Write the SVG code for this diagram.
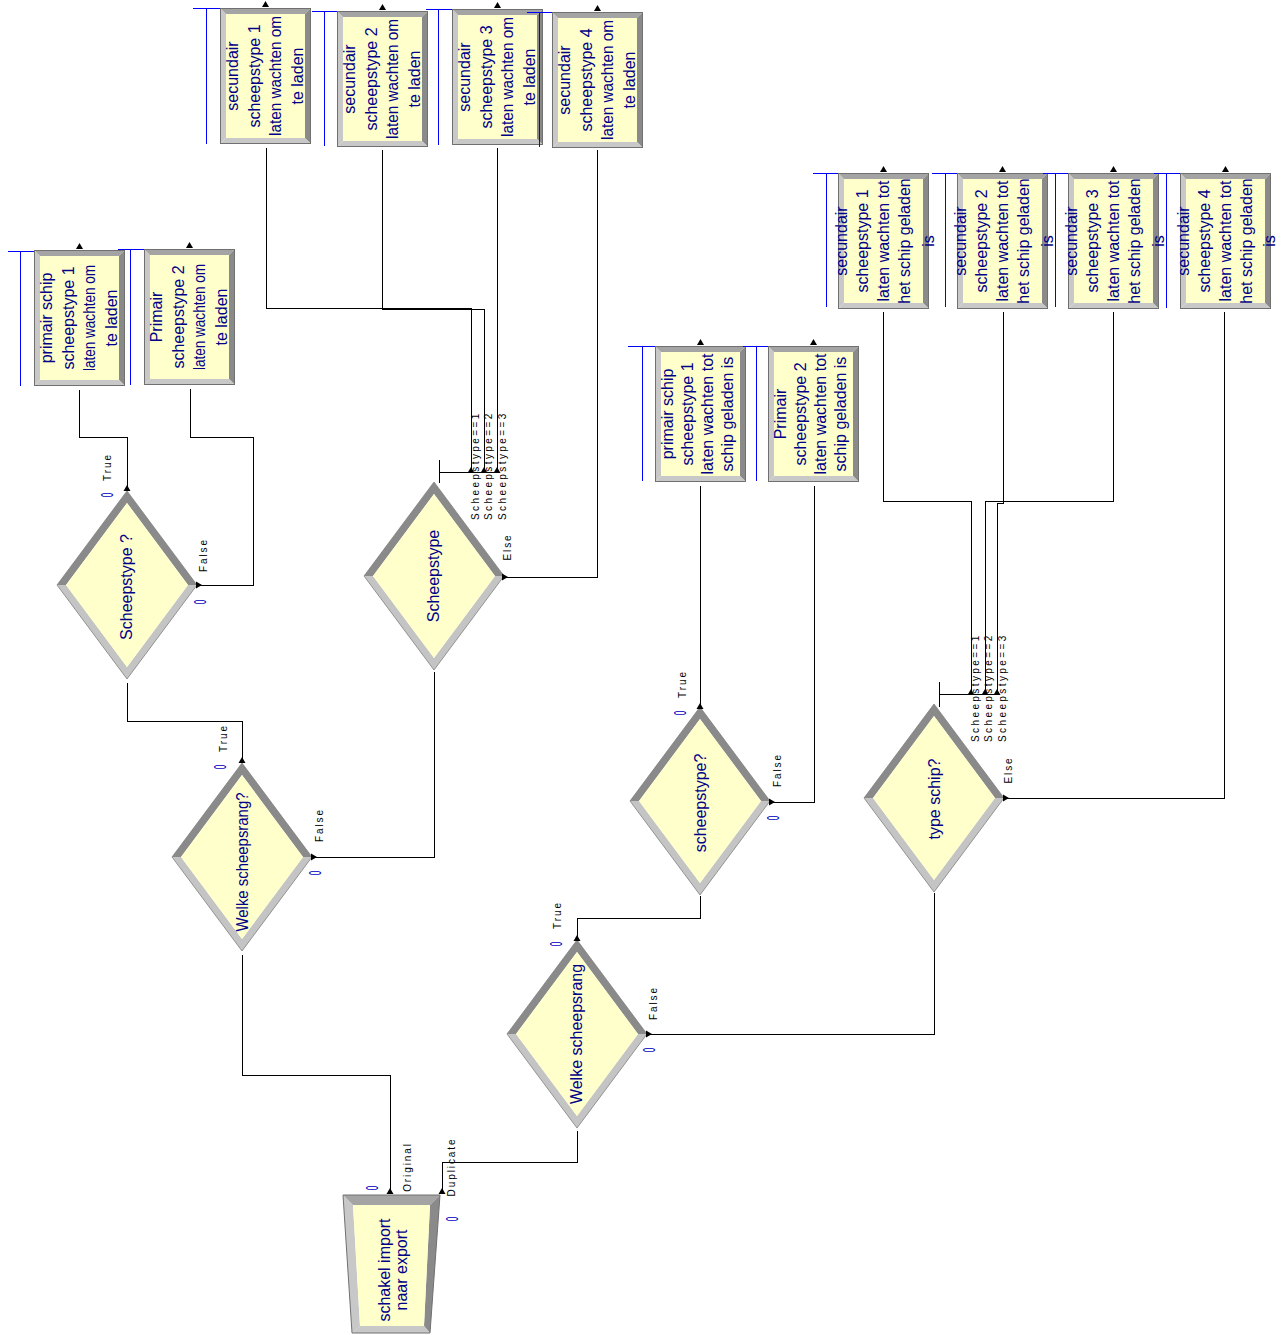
<svg xmlns="http://www.w3.org/2000/svg" xmlns:xlink="http://www.w3.org/1999/xlink" width="1284" height="1335" viewBox="0 0 1284 1335">
<style>
.conn{fill:none;stroke:#000;stroke-width:1}
.q{fill:none;stroke:#0000ff;stroke-width:1}
.t{font-family:"Liberation Sans",Arial,sans-serif;font-size:16px;fill:#000088;text-anchor:middle}
.lbl{font-family:"Liberation Sans",Arial,sans-serif;font-size:10px;fill:#000;letter-spacing:1.9px;text-anchor:middle}
.cond{font-family:"Liberation Sans",Arial,sans-serif;font-size:10px;fill:#000;letter-spacing:2.4px}
.cnt{font-family:"Liberation Sans",Arial,sans-serif;font-size:16px;fill:#0000c0;text-anchor:middle}
</style>
<defs>
<g id="box">
<rect width="91" height="136" fill="#ffffcc"/>
<polygon points="0,0 6,6 6,130 0,136" fill="#c8c8c8"/>
<polygon points="0,0 91,0 85,6 6,6" fill="#a4a4a4"/>
<polygon points="91,0 91,136 85,130 85,6" fill="#8a8a8a"/>
<polygon points="0,136 91,136 85,130 6,130" fill="#c8c8c8"/>
<rect x="0.5" y="0.5" width="90" height="135" fill="none" stroke="#707070"/>
</g>
<g id="dia">
<polygon points="-70,0 0,-94 70,0 61,0 0,-82 -61,0" fill="#8a8a8a"/>
<polygon points="-70,0 0,94 70,0 61,0 0,82 -61,0" fill="#c4c4c4"/>
<polygon points="0,-82 61,0 0,82 -61,0" fill="#ffffcc"/>
<polygon points="0,-94 70,0 0,94 -70,0" fill="none" stroke="#808080" stroke-width="0.8"/>
</g>
<path id="tri" d="M0,-6 L3.5,0 L-3.5,0 Z" fill="#000"/>
<path id="trir" d="M6,0 L0,-3.5 L0,3.5 Z" fill="#000"/>
</defs>
<rect width="1284" height="1335" fill="#fff"/>

<g id="connectors" shape-rendering="crispEdges">
<polyline class="conn" points="127,490 127,437 79,437 79,390"/>
<polyline class="conn" points="197,585 253,585 253,437 190,437 190,389"/>
<polyline class="conn" points="242,762 242,721 127,721 127,683"/>
<polyline class="conn" points="313,857 434,857 434,672"/>
<polyline class="conn" points="390,1193 390,1075 242,1075 242,955"/>
<polyline class="conn" points="442,1193 442,1162 577,1162 577,1131"/>
<polyline class="conn" points="577,940 577,918 700,918 700,896"/>
<polyline class="conn" points="647,1034 934,1034 934,893"/>
<polyline class="conn" points="700,708 700,486"/>
<polyline class="conn" points="770,802 814,802 814,486"/>
<polyline class="conn" points="1003,798 1224,798 1224,312"/>
<polyline class="conn" points="502,577 597,577 597,150"/>
<polyline class="conn" points="471,472 471,308 266,308 266,148"/>
<polyline class="conn" points="484,472 484,309 382,309 382,150"/>
<polyline class="conn" points="497,472 497,148"/>
<polyline class="conn" points="439,460 439,483"/>
<polyline class="conn" points="439,472 497,472"/>
<polyline class="conn" points="971,694 971,501 883,501 883,312"/>
<polyline class="conn" points="985,694 985,501 1113,501 1113,312"/>
<polyline class="conn" points="997,694 997,503 1003,503 1003,312"/>
<polyline class="conn" points="939,682 939,707"/>
<polyline class="conn" points="939,694 997,694"/>
</g>

<g id="n-prim1-laden">
<path class="q" d="M8,251.5 H34 M20.5,251.5 V386"/>
<use xlink:href="#box" x="34" y="250"/>
<use xlink:href="#tri" x="79.5" y="249"/>
<text class="t" transform="translate(52,318) rotate(-90)">primair schip</text>
<text class="t" transform="translate(73.7,318) rotate(-90)">scheepstype 1</text>
<text class="t" transform="translate(95.3,318) rotate(-90)" textLength="106" lengthAdjust="spacingAndGlyphs">laten wachten om</text>
<text class="t" transform="translate(117,318) rotate(-90)">te laden</text>
</g>
<g id="n-prim2-laden">
<path class="q" d="M118,249.5 H144 M130.5,249.5 V385"/>
<use xlink:href="#box" x="144" y="249"/>
<use xlink:href="#tri" x="189.5" y="248"/>
<text class="t" transform="translate(162,317) rotate(-90)">Primair</text>
<text class="t" transform="translate(183.7,317) rotate(-90)">scheepstype 2</text>
<text class="t" transform="translate(205.3,317) rotate(-90)" textLength="106" lengthAdjust="spacingAndGlyphs">laten wachten om</text>
<text class="t" transform="translate(227,317) rotate(-90)">te laden</text>
</g>

<g id="n-sec1-laden">
<path class="q" d="M193,8.5 H220 M206.5,8.5 V144"/>
<use xlink:href="#box" x="220" y="8"/>
<use xlink:href="#tri" x="265.5" y="7"/>
<text class="t" transform="translate(238,76) rotate(-90)">secundair</text>
<text class="t" transform="translate(259.7,76) rotate(-90)">scheepstype 1</text>
<text class="t" transform="translate(281.3,76) rotate(-90)" textLength="120" lengthAdjust="spacingAndGlyphs">laten wachten om</text>
<text class="t" transform="translate(303,76) rotate(-90)">te laden</text>
</g>
<g id="n-sec2-laden">
<path class="q" d="M312,11.5 H337 M324.5,11.5 V146"/>
<use xlink:href="#box" x="337" y="11"/>
<use xlink:href="#tri" x="382.5" y="10"/>
<text class="t" transform="translate(355,79) rotate(-90)">secundair</text>
<text class="t" transform="translate(376.7,79) rotate(-90)">scheepstype 2</text>
<text class="t" transform="translate(398.3,79) rotate(-90)" textLength="120" lengthAdjust="spacingAndGlyphs">laten wachten om</text>
<text class="t" transform="translate(420,79) rotate(-90)">te laden</text>
</g>
<g id="n-sec3-laden">
<path class="q" d="M426,9.5 H452 M438.5,9.5 V145"/>
<use xlink:href="#box" x="452" y="9"/>
<use xlink:href="#tri" x="497.5" y="8"/>
<text class="t" transform="translate(470,77) rotate(-90)">secundair</text>
<text class="t" transform="translate(491.7,77) rotate(-90)">scheepstype 3</text>
<text class="t" transform="translate(513.3,77) rotate(-90)" textLength="120" lengthAdjust="spacingAndGlyphs">laten wachten om</text>
<text class="t" transform="translate(535,77) rotate(-90)">te laden</text>
</g>
<g id="n-sec4-laden">
<path class="q" d="M527,12.5 H552 M539.5,12.5 V147"/>
<use xlink:href="#box" x="552" y="12"/>
<use xlink:href="#tri" x="597.5" y="11"/>
<text class="t" transform="translate(570,80) rotate(-90)">secundair</text>
<text class="t" transform="translate(591.7,80) rotate(-90)">scheepstype 4</text>
<text class="t" transform="translate(613.3,80) rotate(-90)" textLength="120" lengthAdjust="spacingAndGlyphs">laten wachten om</text>
<text class="t" transform="translate(635,80) rotate(-90)">te laden</text>
</g>

<g id="n-prim1-geladen">
<path class="q" d="M628,346.5 H655 M642.5,346.5 V481"/>
<use xlink:href="#box" x="655" y="346"/>
<use xlink:href="#tri" x="700.5" y="345"/>
<text class="t" transform="translate(673,414) rotate(-90)">primair schip</text>
<text class="t" transform="translate(693,414) rotate(-90)">scheepstype 1</text>
<text class="t" transform="translate(713,414) rotate(-90)">laten wachten tot</text>
<text class="t" transform="translate(733,414) rotate(-90)">schip geladen is</text>
</g>
<g id="n-prim2-geladen">
<path class="q" d="M743,346.5 H768 M756.5,346.5 V481"/>
<use xlink:href="#box" x="768" y="346"/>
<use xlink:href="#tri" x="813.5" y="345"/>
<text class="t" transform="translate(786,414) rotate(-90)">Primair</text>
<text class="t" transform="translate(806,414) rotate(-90)">scheepstype 2</text>
<text class="t" transform="translate(826,414) rotate(-90)">laten wachten tot</text>
<text class="t" transform="translate(846,414) rotate(-90)">schip geladen is</text>
</g>

<g id="n-sec1-geladen">
<path class="q" d="M813,173.5 H838 M826.5,173.5 V307"/>
<use xlink:href="#box" x="838" y="173"/>
<use xlink:href="#tri" x="883.5" y="172"/>
<text class="t" transform="translate(847,241) rotate(-90)">secundair</text>
<text class="t" transform="translate(867.5,241) rotate(-90)">scheepstype 1</text>
<text class="t" transform="translate(888.5,241) rotate(-90)">laten wachten tot</text>
<text class="t" transform="translate(909.5,241) rotate(-90)">het schip geladen</text>
<text class="t" transform="translate(934,241) rotate(-90)">is</text>
</g>
<g id="n-sec2-geladen">
<path class="q" d="M932,173.5 H957 M945.5,173.5 V307"/>
<use xlink:href="#box" x="957" y="173"/>
<use xlink:href="#tri" x="1002.5" y="172"/>
<text class="t" transform="translate(966,241) rotate(-90)">secundair</text>
<text class="t" transform="translate(986.5,241) rotate(-90)">scheepstype 2</text>
<text class="t" transform="translate(1007.5,241) rotate(-90)">laten wachten tot</text>
<text class="t" transform="translate(1028.5,241) rotate(-90)">het schip geladen</text>
<text class="t" transform="translate(1053,241) rotate(-90)">is</text>
</g>
<g id="n-sec3-geladen">
<path class="q" d="M1043,173.5 H1068 M1055.5,173.5 V307"/>
<use xlink:href="#box" x="1068" y="173"/>
<use xlink:href="#tri" x="1113.5" y="172"/>
<text class="t" transform="translate(1077,241) rotate(-90)">secundair</text>
<text class="t" transform="translate(1097.5,241) rotate(-90)">scheepstype 3</text>
<text class="t" transform="translate(1118.5,241) rotate(-90)">laten wachten tot</text>
<text class="t" transform="translate(1139.5,241) rotate(-90)">het schip geladen</text>
<text class="t" transform="translate(1164,241) rotate(-90)">is</text>
</g>
<g id="n-sec4-geladen">
<path class="q" d="M1154,173.5 H1180 M1166.5,173.5 V308"/>
<use xlink:href="#box" x="1180" y="173"/>
<use xlink:href="#tri" x="1225.5" y="172"/>
<text class="t" transform="translate(1189,241) rotate(-90)">secundair</text>
<text class="t" transform="translate(1209.5,241) rotate(-90)">scheepstype 4</text>
<text class="t" transform="translate(1230.5,241) rotate(-90)">laten wachten tot</text>
<text class="t" transform="translate(1251.5,241) rotate(-90)">het schip geladen</text>
<text class="t" transform="translate(1275,241) rotate(-90)">is</text>
</g>

<g id="n-scheepstype-q">
<use xlink:href="#dia" x="127" y="585"/>
<use xlink:href="#tri" x="127" y="491"/>
<use xlink:href="#trir" x="196" y="585"/>
<text class="t" transform="translate(132,587) rotate(-90)">Scheepstype ?</text>
<text class="lbl" transform="translate(110.5,467) rotate(-90)">True</text>
<text class="lbl" transform="translate(206.5,555) rotate(-90)">False</text>
<text class="cnt" transform="translate(112.5,495) rotate(-90) scale(0.5,1)">0</text>
<text class="cnt" transform="translate(205.5,602) rotate(-90) scale(0.5,1)">0</text>
</g>

<g id="n-welke-links">
<use xlink:href="#dia" x="242" y="857"/>
<use xlink:href="#tri" x="242" y="763"/>
<use xlink:href="#trir" x="311" y="857"/>
<text class="t" transform="translate(248,862) rotate(-90)" textLength="139" lengthAdjust="spacingAndGlyphs">Welke scheepsrang?</text>
<text class="lbl" transform="translate(226.5,738) rotate(-90)">True</text>
<text class="lbl" transform="translate(322.5,825) rotate(-90)">False</text>
<text class="cnt" transform="translate(225.5,767) rotate(-90) scale(0.5,1)">0</text>
<text class="cnt" transform="translate(320.5,873) rotate(-90) scale(0.5,1)">0</text>
</g>

<g id="n-scheepstype">
<use xlink:href="#dia" x="434" y="576"/>
<use xlink:href="#trir" x="502" y="577"/>
<use xlink:href="#tri" x="471" y="473"/>
<use xlink:href="#tri" x="484" y="473"/>
<use xlink:href="#tri" x="497" y="473"/>
<text class="t" transform="translate(439,576) rotate(-90)">Scheepstype</text>
<text class="cond" transform="translate(478.5,520) rotate(-90)">Scheepstype==1</text>
<text class="cond" transform="translate(491.5,520) rotate(-90)">Scheepstype==2</text>
<text class="cond" transform="translate(505.5,520) rotate(-90)">Scheepstype==3</text>
<text class="lbl" transform="translate(510.5,547) rotate(-90)">Else</text>
</g>

<g id="n-schakel">
<polygon points="343,1195 353,1205 360,1326 352,1333" fill="#c8c8c8"/>
<polygon points="343,1195 440,1195 430,1205 353,1205" fill="#a4a4a4"/>
<polygon points="440,1195 430,1333 424,1326 430,1205" fill="#8a8a8a"/>
<polygon points="352,1333 360,1326 424,1326 430,1333" fill="#c8c8c8"/>
<polygon points="353,1205 430,1205 424,1326 360,1326" fill="#ffffcc"/>
<polygon points="343,1195 440,1195 430,1333 352,1333" fill="none" stroke="#707070"/>
<use xlink:href="#tri" x="390" y="1194"/>
<use xlink:href="#tri" x="442" y="1194"/>
<text class="t" transform="translate(390,1270) rotate(-90)">schakel import</text>
<text class="t" transform="translate(407,1270) rotate(-90)">naar export</text>
<text class="lbl" transform="translate(410.5,1167) rotate(-90)">Original</text>
<text class="lbl" transform="translate(454.5,1167) rotate(-90)">Duplicate</text>
<text class="cnt" transform="translate(377.5,1188) rotate(-90) scale(0.5,1)">0</text>
<text class="cnt" transform="translate(457.5,1219) rotate(-90) scale(0.5,1)">0</text>
</g>

<g id="n-welke-rechts">
<use xlink:href="#dia" x="577" y="1034"/>
<use xlink:href="#tri" x="577" y="941"/>
<use xlink:href="#trir" x="646" y="1034"/>
<text class="t" transform="translate(582,1034) rotate(-90)">Welke scheepsrang</text>
<text class="lbl" transform="translate(560.5,915) rotate(-90)">True</text>
<text class="lbl" transform="translate(656.5,1003) rotate(-90)">False</text>
<text class="cnt" transform="translate(561.5,944) rotate(-90) scale(0.5,1)">0</text>
<text class="cnt" transform="translate(654.5,1050) rotate(-90) scale(0.5,1)">0</text>
</g>

<g id="n-scheepstype-q2">
<use xlink:href="#dia" x="700" y="801"/>
<use xlink:href="#tri" x="700" y="709"/>
<use xlink:href="#trir" x="769" y="802"/>
<text class="t" transform="translate(706,803) rotate(-90)">scheepstype?</text>
<text class="lbl" transform="translate(685.5,684) rotate(-90)">True</text>
<text class="lbl" transform="translate(780.5,770) rotate(-90)">False</text>
<text class="cnt" transform="translate(685.5,713) rotate(-90) scale(0.5,1)">0</text>
<text class="cnt" transform="translate(778.5,818) rotate(-90) scale(0.5,1)">0</text>
</g>

<g id="n-type-schip">
<use xlink:href="#dia" x="934" y="798"/>
<use xlink:href="#trir" x="1003" y="798"/>
<use xlink:href="#tri" x="971" y="695"/>
<use xlink:href="#tri" x="985" y="695"/>
<use xlink:href="#tri" x="997" y="695"/>
<text class="t" transform="translate(940,799) rotate(-90)">type schip?</text>
<text class="cond" transform="translate(978.5,742) rotate(-90)">Scheepstype==1</text>
<text class="cond" transform="translate(991.5,742) rotate(-90)">Scheepstype==2</text>
<text class="cond" transform="translate(1006,742) rotate(-90)">Scheepstype==3</text>
<text class="lbl" transform="translate(1011.5,770) rotate(-90)">Else</text>
</g>
</svg>
